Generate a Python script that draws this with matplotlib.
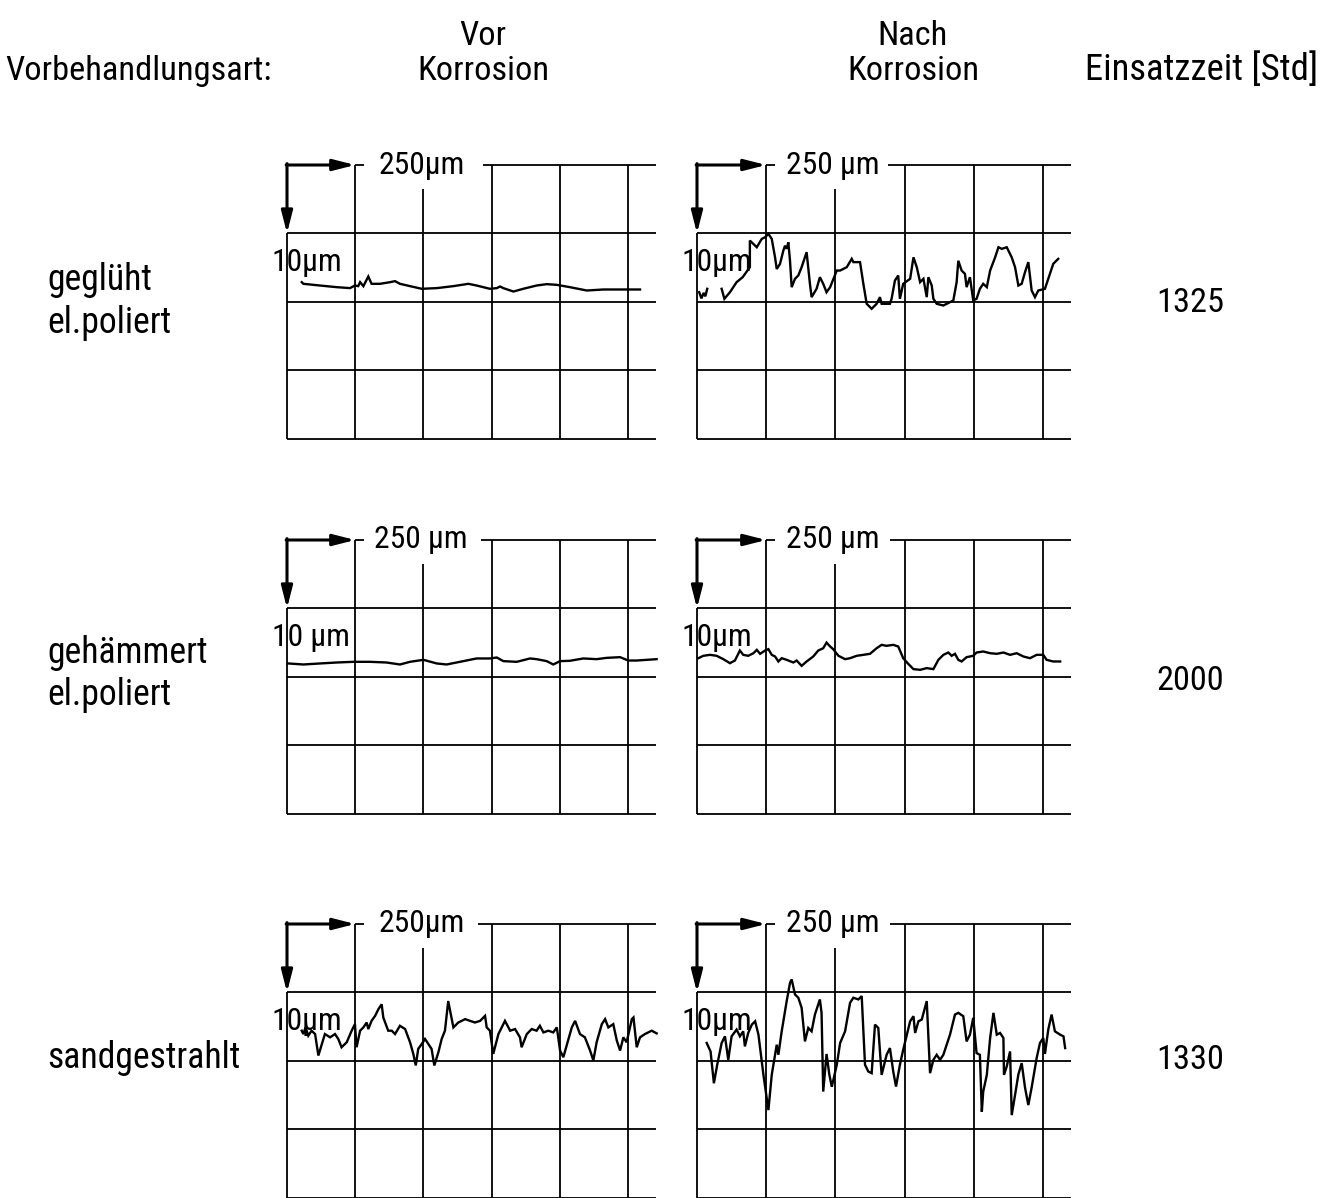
import numpy as np
import matplotlib
matplotlib.use("Agg")
import matplotlib.pyplot as plt
from matplotlib import font_manager as fm

W, H = 1326, 1198

# Prefer a narrow sans face (closest to the DIN lettering); fall back to DejaVu Sans.
def pick_family():
    for fam in ["Roboto Condensed", "Liberation Sans Narrow", "Noto Sans Condensed",
                "Open Sans Condensed", "DejaVu Sans Condensed", "Arial Narrow"]:
        try:
            fm.findfont(fm.FontProperties(family=fam), fallback_to_default=False)
            return fam, "normal"
        except ValueError:
            pass
    for fam in ["Noto Sans", "DejaVu Sans", "Open Sans", "Roboto"]:
        try:
            path = fm.findfont(fm.FontProperties(family=fam, stretch="condensed"),
                               fallback_to_default=False)
            if "ondensed" in path or "arrow" in path:
                return fam, "condensed"
        except ValueError:
            pass
    return "DejaVu Sans", "normal"


FAMILY, STRETCH = pick_family()
plt.rcParams['font.family'] = [FAMILY, 'DejaVu Sans']
plt.rcParams['font.stretch'] = STRETCH

# Surface profiles: x = position along the sample [µm], z = height relative
# to the middle grid line [µm]. One grid cell = 250 µm wide, 10 µm high.

# geglüht, el. poliert - vor Korrosion
gegl_vor_x = [54, 60, 121, 182, 231, 249, 261, 268, 280, 298, 310, 341, 378, 396, 414,
              451, 494, 549, 610, 665, 695, 744, 769, 781, 793, 830, 866, 915, 952, 989,
              1037, 1099, 1160, 1221, 1294]
gegl_vor_z = [2.87, 2.63, 2.38, 2.14, 2.0, 2.38, 2.29, 2.87, 2.29, 3.7, 2.63, 2.63, 2.87,
              3.02, 2.63, 2.29, 1.9, 2.0, 2.29, 2.63, 2.38, 1.9, 2.0, 2.24, 2.0, 1.5, 1.9,
              2.38, 2.58, 2.48, 2.14, 1.65, 1.8, 1.8, 1.8]

# geglüht, el. poliert - nach Korrosion (short start fragment + main trace)
gegl_nach_x0 = [8, 16, 24, 30, 37]
gegl_nach_z0 = [1.4, 0.5, 1.3, 0.8, 1.9]
gegl_nach_x = [89, 99, 119, 143, 165, 191, 191, 216, 234, 246, 258, 270, 282, 288, 300,
               312, 318, 324, 330, 336, 342, 354, 366, 378, 396, 408, 414, 432, 444, 456,
               468, 481, 505, 517, 541, 559, 565, 589, 601, 613, 631, 649, 661, 667, 697,
               703, 715, 727, 733, 745, 770, 782, 794, 806, 818, 830, 836, 848, 854, 866,
               890, 914, 926, 938, 944, 956, 968, 974, 986, 998, 1010, 1022, 1034, 1047,
               1059, 1077, 1089, 1101, 1119, 1137, 1149, 1161, 1173, 1185, 1197, 1209,
               1221, 1233, 1257, 1269, 1287, 1305]
gegl_nach_z = [1.9, 0.44, 1.4, 2.87, 3.6, 5.06, 8.95, 7.98, 9.2, 9.44, 9.93, 9.2, 6.5, 4.8,
               5.55, 7.5, 8.2, 7.74, 8.7, 6.0, 2.14, 3.36, 3.85, 5.06, 7.25, 2.63, 0.68, 1.9,
               3.6, 2.63, 1.4, 2.14, 4.57, 4.57, 5.06, 6.28, 5.8, 5.8, 2.63, -0.29, -1.02,
               -0.29, 0.68, -0.29, -0.29, 0.44, 3.1, 3.85, 0.44, 2.63, 3.36, 6.5, 5.06, 2.87,
               3.36, 0.68, 3.6, 2.38, 0.44, -0.29, -0.54, -0.05, 0.19, 2.87, 6.0, 4.57, 4.09,
               2.14, 3.6, 0.19, 0.44, 1.9, 2.63, 2.14, 4.57, 6.5, 7.98, 7.74, 7.98, 6.5, 5.06,
               2.38, 2.63, 4.33, 5.8, 1.65, 0.68, 1.65, 1.9, 3.36, 5.55, 6.28]

# gehämmert, el. poliert - vor Korrosion
gehae_vor_x = [5, 60, 121, 182, 243, 304, 365, 414, 451, 500, 549, 585, 634, 695, 744, 769,
               793, 842, 891, 915, 952, 976, 1001, 1037, 1086, 1135, 1172, 1221, 1251, 1282,
               1319, 1355]
gehae_vor_z = [1.95, 1.8, 1.95, 2.09, 2.19, 2.19, 2.09, 1.8, 2.19, 2.48, 1.95, 1.8, 2.19,
               2.68, 2.68, 2.82, 2.29, 2.19, 2.68, 2.58, 2.29, 1.8, 2.29, 2.34, 2.68, 2.58,
               2.77, 2.87, 2.38, 2.38, 2.48, 2.58]

# gehämmert, el. poliert - nach Korrosion
gehae_nach_x = [5, 23, 47, 71, 95, 119, 137, 155, 167, 185, 204, 216, 228, 246, 258, 270,
                282, 294, 306, 324, 348, 360, 378, 396, 420, 438, 456, 468, 481, 492, 511,
                535, 553, 577, 601, 625, 649, 667, 685, 709, 727, 745, 763, 782, 806, 830,
                854, 872, 890, 908, 920, 932, 944, 956, 974, 998, 1010, 1034, 1059, 1083,
                1107, 1131, 1155, 1179, 1203, 1227, 1251, 1263, 1287, 1312]
gehae_nach_z = [2.72, 3.07, 3.21, 3.07, 2.58, 1.99, 2.38, 3.84, 3.21, 3.07, 3.45, 3.94, 3.36,
                3.84, 4.04, 3.21, 2.97, 2.24, 2.72, 2.48, 2.09, 2.38, 1.6, 2.24, 2.97, 3.84,
                4.18, 5.0, 4.43, 4.04, 3.07, 2.58, 2.72, 3.07, 3.21, 3.36, 4.18, 4.67, 4.53,
                4.67, 4.43, 2.72, 1.9, 1.12, 1.02, 1.27, 1.12, 2.48, 3.21, 3.55, 3.07, 3.36,
                2.48, 2.24, 2.87, 3.07, 3.55, 3.7, 3.45, 3.36, 3.55, 3.21, 3.45, 2.97, 2.72,
                3.21, 3.21, 2.48, 2.24, 2.24]

# sandgestrahlt - vor Korrosion
sand_vor_x = [54, 60, 68, 78, 90, 103, 115, 139, 158, 176, 188, 200, 219, 237, 249, 255, 268,
              280, 292, 298, 310, 323, 335, 347, 353, 371, 384, 396, 414, 433, 451, 463, 472,
              481, 494, 506, 518, 530, 540, 555, 567, 579, 591, 598, 610, 628, 653, 671, 689,
              708, 726, 732, 744, 756, 775, 799, 818, 836, 854, 860, 879, 897, 915, 927, 940,
              958, 976, 989, 1001, 1013, 1025, 1044, 1056, 1074, 1092, 1111, 1123, 1135,
              1154, 1166, 1178, 1196, 1209, 1221, 1233, 1245, 1264, 1270, 1282, 1294, 1312,
              1337, 1355]
sand_vor_z = [4.4, 3.91, 4.88, 3.67, 4.4, 3.91, 0.77, 3.91, 3.43, 3.91, 3.19, 1.98, 2.71,
              4.4, 5.36, 1.98, 4.4, 4.88, 5.6, 4.64, 5.84, 6.57, 7.54, 8.26, 6.33, 4.4, 4.4,
              3.91, 5.12, 4.64, 2.71, 1.01, -0.68, 1.74, 2.46, 3.19, 2.46, 1.74, -0.68, 1.26,
              3.19, 4.4, 8.74, 7.29, 4.88, 5.6, 6.09, 5.84, 5.6, 5.84, 6.57, 4.88, 4.4, 1.01,
              3.91, 5.84, 4.4, 4.64, 3.43, 1.98, 3.91, 4.64, 4.4, 5.12, 4.15, 4.4, 4.15, 4.88,
              1.5, 0.53, 2.22, 4.88, 5.84, 3.91, 3.43, 1.5, 0.05, 2.71, 5.36, 6.09, 4.88,
              5.36, 2.95, 1.5, 3.43, 2.71, 6.09, 6.33, 1.98, 3.43, 3.91, 4.4, 4.01]

# sandgestrahlt - nach Korrosion
sand_nach_x = [35, 49, 61, 73, 89, 101, 113, 125, 143, 155, 167, 173, 185, 198, 210, 222,
               240, 258, 270, 288, 294, 306, 324, 336, 342, 354, 366, 378, 390, 402, 414,
               426, 444, 450, 456, 468, 478, 487, 505, 517, 535, 553, 565, 583, 595, 607,
               619, 631, 643, 655, 667, 685, 697, 709, 719, 733, 745, 770, 782, 788, 800,
               812, 830, 842, 854, 866, 878, 890, 914, 932, 944, 962, 974, 986, 998, 1010,
               1022, 1029, 1034, 1047, 1059, 1071, 1083, 1095, 1107, 1109, 1119, 1131, 1137,
               1149, 1161, 1173, 1185, 1197, 1209, 1227, 1239, 1251, 1257, 1269, 1281, 1293,
               1312, 1324, 1330]
sand_nach_z = [2.6, 1.37, -3.28, -0.59, 2.6, 3.58, 0.15, 3.58, 4.56, 3.58, 4.31, 2.11, 4.07,
               5.29, 5.78, 3.82, -2.06, -7.21, -2.06, 2.35, 0.88, 4.31, 8.73, 11.4, 11.9, 9.7,
               9.22, 7.75, 2.84, 4.8, 4.31, 6.76, 8.97, 7.01, -4.5, 1.0, -2.0, -3.8, -0.59,
               2.6, 4.31, 8.48, 9.22, 8.97, 9.46, -0.59, -1.57, -1.81, 5.29, 4.8, -2.06, 0.88,
               1.86, -1.57, -3.77, -0.59, 1.62, 5.78, 6.52, 4.07, 5.78, 6.03, 8.73, -1.81,
               0.15, 0.88, 0.15, 0.88, 3.82, 6.76, 7.01, 6.52, 2.84, 3.82, 6.27, 1.13, 0.88,
               -7.45, -4.51, -2.06, 3.33, 7.01, 3.82, 4.07, 3.33, -2.06, -0.83, 1.37, -7.94,
               -5.0, -2.0, -0.34, -3.9, -6.47, -3.9, 0.39, 2.6, 3.33, 1.0, 4.56, 6.76, 4.31,
               3.82, 3.58, 1.86]

# Labels
header_left = "Vorbehandlungsart:"
col_titles = ["Vor\nKorrosion", "Nach\nKorrosion"]
header_right = "Einsatzzeit [Std]"
row_labels = ["geglüht\nel.poliert", "gehämmert\nel.poliert", "sandgestrahlt"]
hours = ["1325", "2000", "1330"]
scale_x_labels = [["250µm", "250 µm"], ["250 µm", "250 µm"], ["250µm", "250 µm"]]
scale_z_labels = [["10µm", "10µm"], ["10 µm", "10µm"], ["10µm", "10µm"]]

traces = [
    [[(gegl_vor_x, gegl_vor_z)], [(gegl_nach_x0, gegl_nach_z0), (gegl_nach_x, gegl_nach_z)]],
    [[(gehae_vor_x, gehae_vor_z)], [(gehae_nach_x, gehae_nach_z)]],
    [[(sand_vor_x, sand_vor_z)], [(sand_nach_x, sand_nach_z)]],
]

# Panel geometry (pixels): left edge of grid per column, top grid line per row
COL_X0 = [287, 697]
COL_CW = [68.2, 69.2]
ROW_TOP = [165, 540, 924]
CELL_H = 68.4
CELL_X = 250.0   # µm per horizontal cell
CELL_Z = 10.0    # µm per vertical cell
X_END = 1352.0
TAIL_END = 282.0
TEXT_GAP_END = [[718, 690], [712, 698], [700, 698]]

fig = plt.figure(figsize=(W / 100, H / 100), dpi=100)
fig.patch.set_facecolor("white")
renderer = fig.canvas.get_renderer()


def fit_size(s, target_px, cap, probe=20.0):
    """Font size at which string s spans target_px pixels (at most cap)."""
    t = fig.text(0, 0, s, fontsize=probe)
    w = t.get_window_extent(renderer).width
    t.remove()
    return min(cap, probe * target_px / w)


GRID_LW = 1.3
BRACKET_LW = 2.2
TRACE_LW = 1.7
FS_PANEL = fit_size("250 µm", 94, 25)


def draw_panel(r, c):
    x0, cw, top = COL_X0[c], COL_CW[c], ROW_TOP[r]
    xmin, xmax = -90.0, 1420.0
    zmin, zmax = -21.0, 24.0
    left = x0 + xmin / CELL_X * cw
    right = x0 + xmax / CELL_X * cw
    ptop = top - (zmax - 20) / CELL_Z * CELL_H
    pbot = top + (20 - zmin) / CELL_Z * CELL_H
    ax = fig.add_axes([left / W, 1 - pbot / H, (right - left) / W, (pbot - ptop) / H])
    ax.set_xlim(xmin, xmax)
    ax.set_ylim(zmin, zmax)
    ax.axis("off")

    kw = dict(color="black", lw=GRID_LW, clip_on=False, solid_capstyle="butt")
    for z in (10, 0, -10, -20):
        ax.plot([0, X_END], [z, z], **kw)
    ax.plot([250, TAIL_END], [20, 20], **kw)
    ax.plot([TEXT_GAP_END[r][c], X_END], [20, 20], **kw)
    for xv in (250, 750, 1000, 1250):
        ax.plot([xv, xv], [-20, 20], **kw)
    ax.plot([500, 500], [-20, 16.5], **kw)
    ax.plot([0, 0], [-20, 10], **kw)

    # scale bracket with arrows
    arrow = dict(arrowstyle="-|>,head_length=1.1,head_width=0.28", color="black",
                 lw=BRACKET_LW, shrinkA=0, shrinkB=0, mutation_scale=12)
    ax.annotate("", xy=(250, 20), xytext=(-3, 20), arrowprops=arrow, annotation_clip=False)
    ax.annotate("", xy=(0, 10), xytext=(0, 20.2), arrowprops=arrow, annotation_clip=False)

    ax.text(492, 20, scale_x_labels[r][c], ha="center", va="center",
            fontsize=FS_PANEL, color="black")
    ax.text(-55, 5.8, scale_z_labels[r][c], ha="left", va="center",
            fontsize=FS_PANEL, color="black")

    for xs, zs in traces[r][c]:
        ax.plot(xs, zs, color="black", lw=TRACE_LW, clip_on=False,
                solid_joinstyle="miter")


for r in range(3):
    for c in range(2):
        draw_panel(r, c)


def ftext(x, y, s, **kw):
    fig.text(x / W, 1 - y / H, s, color="black", **kw)


FS_HEAD = 0.5 * (fit_size(header_left, 275, 27) + fit_size("Korrosion", 126, 27))
FS_RIGHT = fit_size(header_right, 232, 27)
ftext(5, 80, header_left, ha="left", va="baseline", fontsize=FS_HEAD)
for xc, title in zip((483, 913), col_titles):
    top_word, bottom_word = title.split("\n")
    ftext(xc, 45, top_word, ha="center", va="baseline", fontsize=FS_HEAD)
    ftext(xc, 80, bottom_word, ha="center", va="baseline", fontsize=FS_HEAD)
ftext(1202, 80, header_right, ha="center", va="baseline", fontsize=FS_RIGHT)

FS_ROW = fit_size("sandgestrahlt", 193, 28)
row_baselines = [(290, 333), (663, 705), (1068,)]
for label, bases in zip(row_labels, row_baselines):
    for line, yb in zip(label.split("\n"), bases):
        ftext(47, yb, line, ha="left", va="baseline", fontsize=FS_ROW)

FS_NUM = FS_HEAD
for h, yb in zip(hours, (312, 690, 1069)):
    ftext(1190, yb, h, ha="center", va="baseline", fontsize=FS_NUM)

fig.savefig("out.png", dpi=100, facecolor="white")
